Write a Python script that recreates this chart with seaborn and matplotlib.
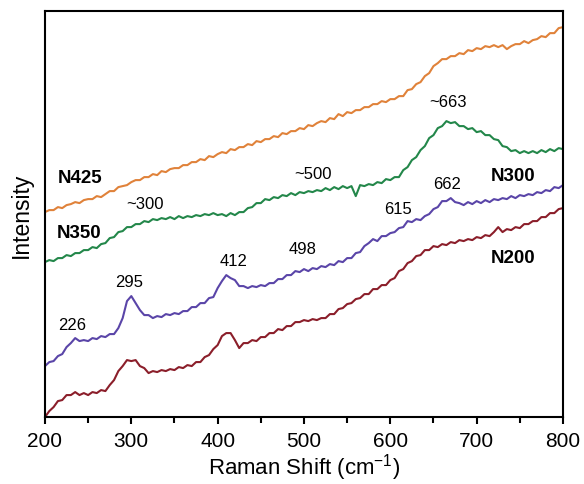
import numpy as np
import pandas as pd
import seaborn as sns
import matplotlib.pyplot as plt
from matplotlib.ticker import MultipleLocator, NullLocator

# Raman shift grid (cm^-1)
shift = np.arange(200, 801, 5)

# Stacked (offset) Raman spectra, arbitrary intensity units
n425 = [205, 207, 207, 210, 209, 212, 213, 215, 214, 217,
        218, 218, 221, 220, 223, 226, 226, 230, 231, 232,
        235, 237, 237, 240, 240, 243, 242, 246, 245, 248,
        249, 249, 252, 252, 255, 255, 258, 257, 261, 260,
        263, 265, 264, 268, 267, 270, 270, 273, 272, 276,
        275, 278, 278, 281, 280, 284, 283, 286, 286, 289,
        288, 292, 291, 294, 296, 295, 299, 298, 303, 301,
        305, 304, 307, 307, 310, 310, 313, 313, 316, 315,
        318, 318, 321, 321, 327, 328, 333, 335, 341, 344,
        351, 354, 358, 358, 361, 361, 364, 363, 367, 366,
        369, 368, 371, 370, 372, 370, 372, 368, 371, 373,
        373, 376, 374, 377, 378, 381, 380, 384, 384, 389,
        390]

n350 = [155, 157, 156, 159, 159, 162, 161, 164, 164, 167,
        167, 170, 169, 173, 174, 179, 180, 185, 186, 190,
        190, 193, 193, 196, 195, 198, 197, 199, 198, 200,
        198, 201, 199, 201, 200, 202, 201, 203, 202, 204,
        202, 203, 201, 204, 202, 205, 205, 209, 210, 214,
        214, 218, 217, 220, 219, 222, 221, 224, 222, 225,
        224, 226, 225, 227, 226, 229, 227, 230, 228, 231,
        229, 231, 221, 232, 231, 233, 232, 235, 234, 238,
        237, 240, 240, 247, 250, 257, 260, 267, 271, 279,
        282, 289, 291, 296, 294, 295, 291, 291, 288, 289,
        285, 286, 282, 282, 278, 277, 271, 270, 266, 267,
        264, 266, 264, 266, 264, 267, 265, 268, 266, 269,
        268]

n300 = [51, 55, 56, 61, 63, 70, 74, 79, 76, 77,
        76, 79, 78, 81, 80, 83, 83, 89, 99, 116,
        121, 114, 107, 102, 102, 99, 101, 100, 103, 102,
        104, 103, 106, 106, 110, 110, 114, 114, 119, 120,
        129, 136, 142, 139, 137, 131, 131, 129, 131, 130,
        132, 131, 134, 134, 138, 138, 142, 142, 146, 145,
        148, 146, 149, 148, 151, 150, 153, 152, 156, 155,
        159, 159, 164, 165, 171, 174, 178, 176, 181, 181,
        184, 185, 189, 190, 196, 195, 198, 197, 201, 203,
        208, 210, 216, 216, 219, 215, 214, 212, 215, 213,
        216, 214, 217, 215, 218, 217, 219, 218, 221, 219,
        222, 221, 223, 222, 225, 224, 227, 226, 230, 229,
        232]

n200 = [0, 6, 10, 16, 17, 22, 22, 25, 22, 24,
        22, 25, 24, 27, 26, 32, 37, 46, 51, 57,
        56, 57, 51, 49, 44, 46, 45, 47, 46, 48,
        47, 50, 49, 52, 51, 55, 55, 60, 62, 68,
        72, 81, 84, 84, 77, 69, 74, 74, 77, 76,
        80, 80, 84, 84, 88, 87, 91, 91, 95, 95,
        97, 96, 98, 97, 99, 99, 103, 103, 108, 109,
        113, 114, 118, 119, 123, 123, 128, 128, 132, 132,
        137, 139, 146, 148, 154, 156, 161, 162, 167, 167,
        171, 170, 173, 172, 175, 174, 177, 176, 178, 177,
        180, 179, 182, 181, 185, 190, 185, 188, 187, 190,
        189, 193, 193, 196, 196, 200, 200, 204, 204, 208,
        209]

samples = ["N425", "N350", "N300", "N200"]
colors = ["#E0823A", "#23874A", "#5A45A8", "#8B1E2A"]

# Sample names and their label positions (shift, intensity)
sample_labels = ["N425", "N350", "N300", "N200"]
sample_label_x = [215, 214, 716, 716]
sample_label_y = [240, 185, 242, 160]

# Band annotations
band_text = ["~300", "~500", "~663", "662", "615", "498", "412", "295", "226"]
band_x = [316, 510, 667, 666, 609, 498, 418, 297, 231]
band_y = [214, 244, 316, 234, 209, 169, 157, 136, 93]

df = pd.concat([
    pd.DataFrame({"shift": shift, "intensity": vals, "sample": name})
    for name, vals in zip(samples, [n425, n350, n300, n200])
])

sns.set_theme(style="ticks")
plt.rcParams["font.family"] = ["Liberation Sans", "DejaVu Sans"]
plt.rcParams["mathtext.default"] = "regular"
plt.rcParams["text.color"] = "black"
plt.rcParams["axes.labelcolor"] = "black"
plt.rcParams["xtick.color"] = "black"
plt.rcParams["ytick.color"] = "black"

fig = plt.figure(figsize=(5.84, 4.85), dpi=100)
ax = fig.add_axes([0.077, 0.138, 0.887, 0.837])

sns.lineplot(data=df, x="shift", y="intensity", hue="sample",
             palette=dict(zip(samples, colors)), hue_order=samples,
             linewidth=1.5, legend=False, ax=ax)

ax.set_xlim(200, 800)
ax.set_ylim(0, 406)
ax.xaxis.set_major_locator(MultipleLocator(100))
ax.xaxis.set_minor_locator(MultipleLocator(50))
ax.yaxis.set_major_locator(NullLocator())
ax.yaxis.set_minor_locator(NullLocator())

for side in ["left", "right", "top", "bottom"]:
    ax.spines[side].set_visible(True)
    ax.spines[side].set_linewidth(1.5)
    ax.spines[side].set_color("black")

ax.tick_params(axis="x", which="major", direction="out", length=5,
               width=1.5, labelsize=15, pad=5, colors="black")
ax.tick_params(axis="x", which="minor", direction="out", length=4,
               width=1.5, colors="black")

ax.set_xlabel("Raman Shift (cm$^{-1}$)", fontsize=16, labelpad=1)
ax.set_ylabel("Intensity", fontsize=16.5, labelpad=9)

for t, x, y in zip(sample_labels, sample_label_x, sample_label_y):
    ax.text(x, y, t, fontsize=13.5, fontweight="bold", ha="left",
            va="center", color="black")

for t, x, y in zip(band_text, band_x, band_y):
    ax.text(x, y, t, fontsize=12, ha="center", va="center", color="black")

fig.savefig("out.png", dpi=100)
